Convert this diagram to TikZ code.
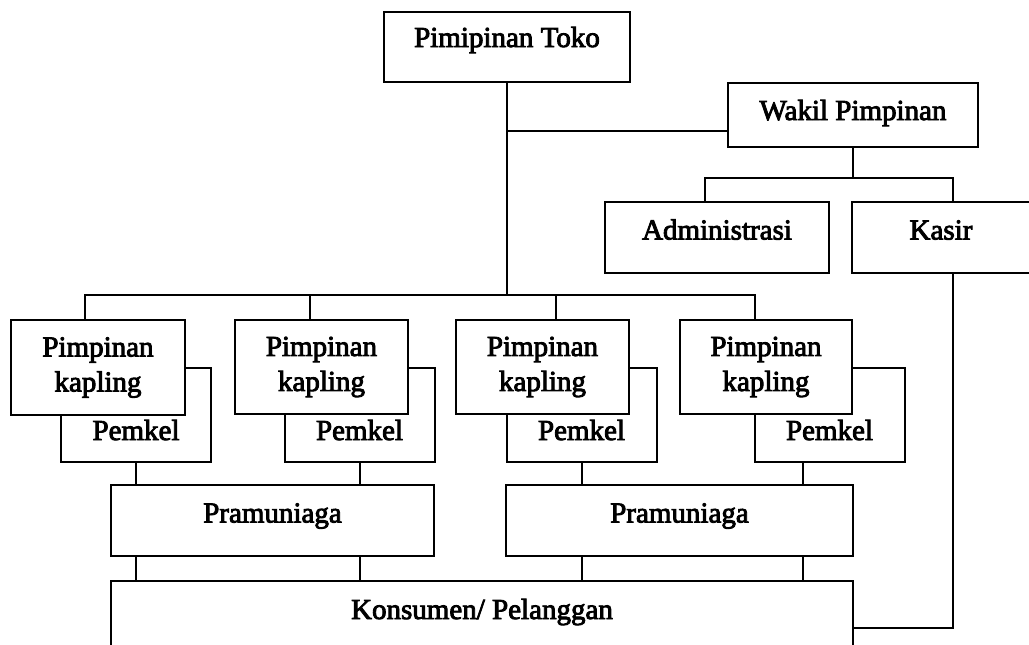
\documentclass[tikz,border=0pt]{standalone}
\usepackage{fontspec}
\setmainfont{Liberation Serif}
\newfontfamily\scanfont{Liberation Serif}[FakeBold=3]
\usetikzlibrary{calc}

\tikzset{
	kotak/.style={draw, line width=1pt, fill=white, inner sep=0pt, font=\scanfont\fontsize{14.5}{17.5}\selectfont},
	satu/.style={kotak, text height=9pt, text depth=7pt},
	garis/.style={line width=1pt},
}

\begin{document}
\begin{tikzpicture}[x=0.5pt,y=-0.5pt]
	\path[use as bounding box, clip] (0,0) rectangle (1029,644);

	% atas
	\node[satu, minimum width=123pt, minimum height=35pt, text depth=9pt] (toko) at (507,47) {Pimipinan Toko};
	\node[satu, minimum width=125pt, minimum height=32pt, text depth=4pt] (wakil) at (853,115) {Wakil Pimpinan};
	\node[satu, minimum width=112pt, minimum height=35.5pt] (admin) at (717,237.5) {Administrasi};
	\node[satu, minimum width=89pt, minimum height=35.5pt] (kasir) at (941,237.5) {Kasir};

	% pemkel di belakang kapling
	\node[satu, minimum width=75pt, text height=36pt, text depth=11pt] (pm1) at (136,415) {Pemkel};
	\node[satu, minimum width=75pt, text height=36pt, text depth=11pt] (pm2) at (359.5,415) {Pemkel};
	\node[satu, minimum width=75pt, text height=36pt, text depth=11pt] (pm3) at (581.5,415) {Pemkel};
	\node[satu, minimum width=75pt, text height=36pt, text depth=11pt] (pm4) at (829.5,415) {Pemkel};

	\node[kotak, align=center, minimum width=87pt, minimum height=47.5pt] (pk1) at (98,367.5) {Pimpinan\\kapling};
	\node[kotak, align=center, minimum width=86.5pt, minimum height=47pt] (pk2) at (321.5,367) {Pimpinan\\kapling};
	\node[kotak, align=center, minimum width=86.5pt, minimum height=47pt] (pk3) at (542.5,367) {Pimpinan\\kapling};
	\node[kotak, align=center, minimum width=86pt, minimum height=47pt] (pk4) at (766,367) {Pimpinan\\kapling};

	\node[satu, minimum width=161.5pt, minimum height=35.5pt] (pram1) at (272.5,520.5) {Pramuniaga};
	\node[satu, minimum width=173.5pt, minimum height=35.5pt] (pram2) at (679.5,520.5) {Pramuniaga};

	\node[satu, anchor=north, minimum width=371pt, text height=19pt, text depth=25pt] (kons) at (482,580) {Konsumen/ Pelanggan};

	% garis
	\coordinate (bus) at ($(toko.south)+(0,212)$);
	\coordinate (wk) at ($(wakil.west)+(0,16)$);
	\coordinate (wbus) at ($(wakil.south)+(0,30)$);
	\coordinate (pm4x) at ([xshift=-13.25pt]pm4.south);

	\draw[garis] (toko.south) -- (bus);
	\draw[garis] (wk) -- (wk -| toko.south);
	\draw[garis] (wakil.south) -- (wbus);
	\draw[garis] ([xshift=-6pt]admin.north) |- (wbus) -| ([xshift=6pt]kasir.north);
	\draw[garis] ([xshift=6pt]kasir.south) |- ([yshift=-1.5pt]kons.east);

	\foreach \k/\dx in {1/-6.5pt,2/-5.75pt,3/6.75pt,4/-5.5pt}
		\draw[garis] ([xshift=\dx]pk\k.north) |- (bus);

	\foreach \a/\p in {pm1.south/pram1,pm2.south/pram1,pm3.south/pram2,pm4x/pram2}{
		\draw[garis] (\a) -- (\a |- \p.north);
		\draw[garis] (\a |- \p.south) -- (\a |- kons.north);
	}
\end{tikzpicture}
\end{document}
